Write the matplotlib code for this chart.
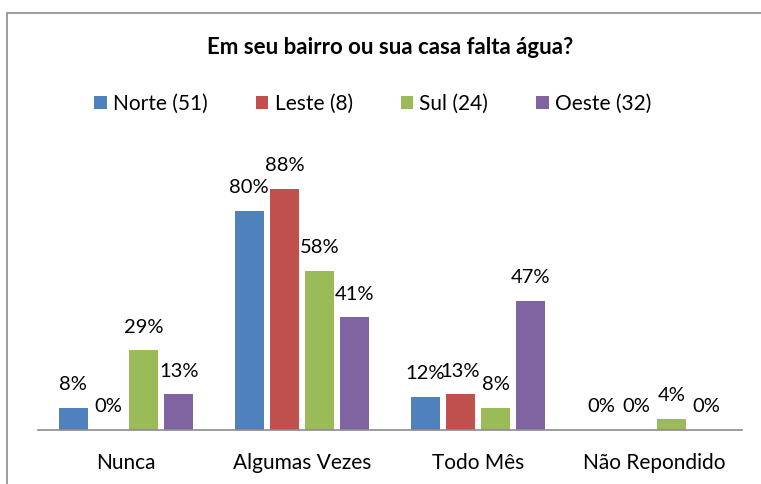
import matplotlib.pyplot as plt
import numpy as np
from matplotlib.patches import Rectangle

plt.rcParams["font.family"] = ["Lato", "DejaVu Sans"]

TITLE = "Em seu bairro ou sua casa falta água?"
CATEGORIES = ["Nunca", "Algumas Vezes", "Todo Mês", "Não Repondido"]
SERIES = ["Norte (51)", "Leste (8)", "Sul (24)", "Oeste (32)"]
NORTE = [8, 80, 12, 0]
LESTE = [0, 88, 13, 0]
SUL = [29, 58, 8, 4]
OESTE = [13, 41, 47, 0]
COLORS = ["#4F81BD", "#C0504D", "#9BBB59", "#8064A2"]


def main():
    values = [NORTE, LESTE, SUL, OESTE]
    fig = plt.figure(figsize=(7.61, 4.84), dpi=100)
    ax = fig.add_axes([0.050, 0.112, 0.925, 0.566])

    # outer chart frame, open to the right and bottom
    fig.patches.append(Rectangle((7 / 761, -0.1), 1.2, 1.1 - 13 / 484,
                                 transform=fig.transFigure, fill=False,
                                 edgecolor="#8c8c8c", linewidth=1.2))

    x = np.arange(len(CATEGORIES))
    step = 0.2
    width = 0.165
    for i, (name, vals, color) in enumerate(zip(SERIES, values, COLORS)):
        pos = x + (i - 1.5) * step
        bars = ax.bar(pos, vals, width=width, color=color, label=name)
        for b, v in zip(bars, vals):
            ax.annotate("%d%%" % v, (b.get_x() + b.get_width() / 2, v),
                        xytext=(0, 10.5), textcoords="offset points",
                        ha="center", va="bottom", fontsize=14.5, color="black")

    ax.set_xlim(-0.5, len(CATEGORIES) - 0.5)
    ax.set_ylim(0, 100)
    ax.set_yticks([])
    ax.set_xticks(x)
    ax.set_xticklabels(CATEGORIES, fontsize=15)
    ax.tick_params(axis="x", length=0, pad=17)
    for side in ("top", "right", "left"):
        ax.spines[side].set_visible(False)
    ax.spines["bottom"].set_color("#8c8c8c")
    ax.spines["bottom"].set_linewidth(1.2)

    fig.text(0.512, 1 - 48 / 484, TITLE, ha="center", va="center",
             fontsize=16, fontweight="bold")
    fig.legend(loc="center", bbox_to_anchor=(0.49, 1 - 104 / 484), ncol=4,
               frameon=False, fontsize=15, handlelength=0.6, handleheight=0.6,
               handletextpad=0.3, columnspacing=2.3)

    fig.savefig("out.png")
    plt.close(fig)


if __name__ == "__main__":
    main()
